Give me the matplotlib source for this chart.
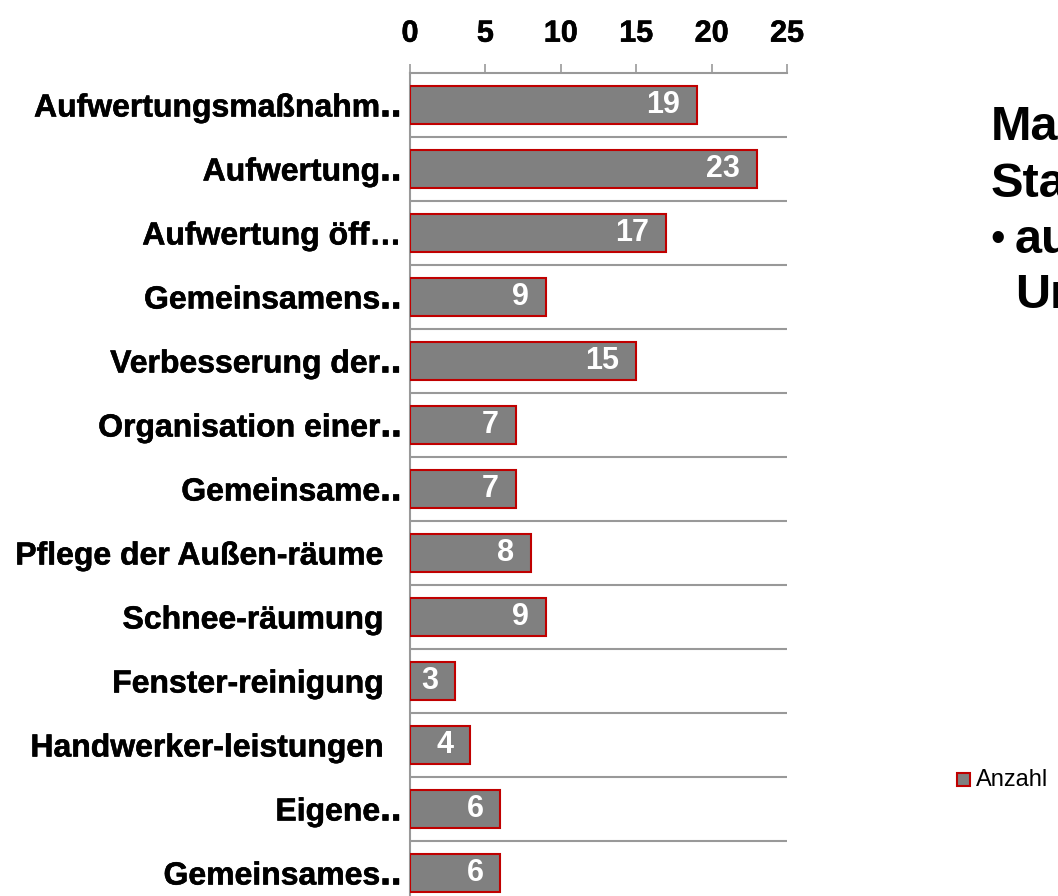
import matplotlib
matplotlib.use("Agg")
import matplotlib.pyplot as plt
from matplotlib.patches import Rectangle
import matplotlib.patheffects as pe

plt.rcParams['font.family'] = ['Liberation Sans', 'DejaVu Sans']

categories = ["Aufwertungsmaßnahm‥", "Aufwertung‥", "Aufwertung öff…", "Gemeinsamens‥",
              "Verbesserung der‥", "Organisation einer‥", "Gemeinsame‥",
              "Pflege der Außen-räume  ", "Schnee-räumung  ", "Fenster-reinigung  ",
              "Handwerker-leistungen  ", "Eigene‥", "Gemeinsames‥"]
values = [19, 23, 17, 9, 15, 7, 7, 8, 9, 3, 4, 6, 6]
xticks = [0, 5, 10, 15, 20, 25]
series_name = "Anzahl"
side_lines = ["Ma", "Sta", "au", "Ur"]
bullet = "•"

W, H = 1058, 896
fig = plt.figure(figsize=(W / 100, H / 100), dpi=100)
x0, x1 = 410, 787
ytop, ybot = 73, 905
ax = fig.add_axes([x0 / W, 1 - ybot / H, (x1 - x0) / W, (ybot - ytop) / H])

n = len(categories)
pos = list(range(n))
bar_col = '#808080'
edge_col = '#C00000'
grid_col = '#999999'
heavy = [pe.withStroke(linewidth=0.4, foreground='black')]

ax.barh(pos, values, height=0.58, color=bar_col, edgecolor=edge_col, linewidth=1.5, zorder=3)
ax.set_xlim(0, 25)
ax.set_ylim(n - 0.5, -0.5)

for i in range(n - 1):
    ax.axhline(i + 0.5, color=grid_col, linewidth=1.5, zorder=1)

for p, v in zip(pos, values):
    ax.annotate(str(v), xy=(v, p), xytext=(-17, 0), textcoords='offset pixels',
                ha='right', va='center', color='white', fontsize=22, fontweight='bold',
                zorder=4)

ax.xaxis.tick_top()
ax.set_xticks(xticks)
ax.set_xticklabels([str(t) for t in xticks], fontsize=22, fontweight='bold')
ax.tick_params(axis='x', direction='out', length=6.5, width=1.2, color=grid_col, pad=11)
ax.set_yticks(pos)
ax.set_yticklabels(categories, fontsize=23, fontweight='bold')
ax.tick_params(axis='y', length=0, pad=6)
for lab in ax.get_xticklabels() + ax.get_yticklabels():
    lab.set_path_effects(heavy)
for lab in ax.get_yticklabels():
    lab.set_va('center_baseline')

for s in ['right', 'bottom']:
    ax.spines[s].set_visible(False)
for s in ['top', 'left']:
    ax.spines[s].set_color(grid_col)
    ax.spines[s].set_linewidth(1.5)

# side text (cut off at the right edge, as in the original slide)
ys = [140, 197, 253, 308]
xs = [991, 991, 1015, 1015]
for t, xx, yy in zip(side_lines, xs, ys):
    fig.text(xx / W, 1 - yy / H, t, fontsize=35, fontweight='bold', ha='left', va='baseline')
fig.text(990 / W, 1 - 251 / H, bullet, fontsize=30, ha='left', va='baseline')

# legend
fig.patches.append(Rectangle((957 / W, 1 - 786 / H), 13 / W, 13 / H, transform=fig.transFigure,
                             facecolor=bar_col, edgecolor=edge_col, linewidth=1.5))
fig.text(976 / W, 1 - 780 / H, series_name, fontsize=17, ha='left', va='center')

fig.savefig('out.png', dpi=100)
